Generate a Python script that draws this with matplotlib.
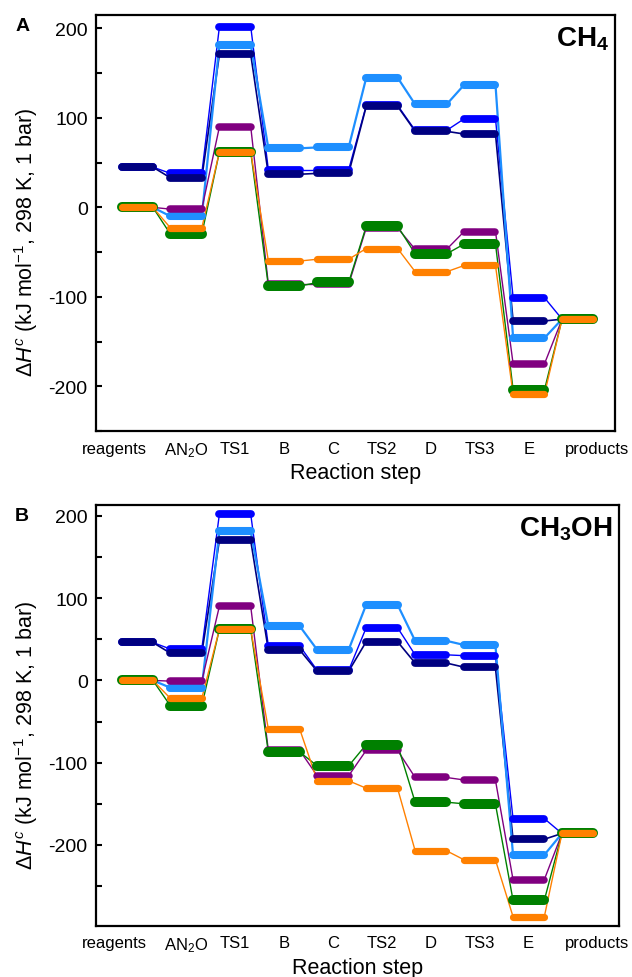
import numpy as np
import matplotlib
matplotlib.use("Agg")
import matplotlib.pyplot as plt

plt.rcParams['font.family'] = ['Liberation Sans', 'DejaVu Sans']
plt.rcParams['mathtext.fontset'] = 'custom'
plt.rcParams['mathtext.rm'] = 'Liberation Sans'
plt.rcParams['mathtext.it'] = 'Liberation Sans:italic'
plt.rcParams['mathtext.bf'] = 'Liberation Sans:bold'
plt.rcParams['axes.unicode_minus'] = False

steps = ['reagents', 'AN$_2$O', 'TS1', 'B', 'C', 'TS2', 'D', 'TS3', 'E', 'products']

# panel A : CH4
ch4_navy      = [45, 33, 171, 37, 38, 113, 85, 82, -127, -125]
ch4_blue      = [45, 38, 202, 42, 42, 114, 86, 99, -101, -125]
ch4_lightblue = [0, -10, 182, 66, 67, 145, 115, 137, -146, -125]
ch4_purple    = [0, -2, 90, -86, -86, -23, -47, -27, -175, -125]
ch4_green     = [0, -30, 62, -88, -84, -21, -52, -41, -204, -125]
ch4_orange    = [0, -23, 62, -60, -58, -46, -72, -65, -209, -125]

# panel B : CH3OH
meoh_navy      = [46, 33, 170, 37, 11, 47, 21, 16, -193, -186]
meoh_blue      = [46, 38, 202, 42, 12, 64, 31, 30, -168, -186]
meoh_lightblue = [0, -9, 181, 66, 37, 92, 48, 43, -212, -186]
meoh_purple    = [0, -1, 90, -85, -116, -85, -118, -121, -242, -186]
meoh_green     = [0, -31, 62, -87, -104, -78, -148, -150, -267, -186]
meoh_orange    = [0, -22, 62, -59, -122, -131, -207, -218, -287, -186]

colors = {'blue': '#0000ff', 'navy': '#000080', 'lightblue': '#1e8fff',
          'purple': '#800080', 'green': '#008000', 'orange': '#ff8000'}
barw = {'blue': 5.6, 'navy': 5.6, 'lightblue': 5.8, 'purple': 5.4, 'green': 7.2, 'orange': 5.2}
connw = {'blue': 1.0, 'navy': 1.2, 'lightblue': 1.6, 'purple': 1.0, 'green': 1.0, 'orange': 1.0}

half = 0.32


def draw_profile(ax, vals, name):
    c = colors[name]
    x = np.arange(len(vals))
    for i in range(len(vals) - 1):
        ax.plot([x[i] + half, x[i + 1] - half], [vals[i], vals[i + 1]], '-', color=c,
                lw=connw[name], zorder=1)
    for i in range(len(vals)):
        ax.plot([x[i] - half, x[i] + half], [vals[i], vals[i]], '-', color=c,
                lw=barw[name], solid_capstyle='round', zorder=2)


def setup(ax, ylim, xlim, title, letter):
    ax.set_xlim(*xlim)
    ax.set_ylim(*ylim)
    pos = list(np.arange(len(steps), dtype=float))
    pos[0] -= 0.47
    pos[-1] += 0.39
    ax.set_xticks(pos)
    ax.set_xticklabels(steps, fontsize=12)
    ax.tick_params(axis='x', length=0, pad=7)
    ax.set_yticks([-200, -100, 0, 100, 200])
    ax.set_yticks(np.arange(-250, 201, 50), minor=True)
    ax.tick_params(axis='y', which='both', direction='in', length=4, width=1.5,
                   labelsize=14, pad=6, right=False)
    for s in ax.spines.values():
        s.set_linewidth(1.6)
    ax.set_xlabel('Reaction step', fontsize=15.5, labelpad=2)
    ax.set_ylabel(r'$\Delta\mathit{H}^{\mathit{c}}$ (kJ mol$^{-1}$, 298 K, 1 bar)', fontsize=15.5)
    ax.yaxis.set_label_coords(-0.108, 0.455)
    ax.text(0.988, 0.978, title, transform=ax.transAxes, ha='right', va='top',
            fontsize=20, fontweight='bold')
    ax.text(-0.155, 0.995, letter, transform=ax.transAxes, ha='left', va='top',
            fontsize=14, fontweight='bold')


fig = plt.figure(figsize=(6.32, 9.78), dpi=100)
axA = fig.add_axes([0.152, 0.5583, 0.821, 0.4253])
axB = fig.add_axes([0.152, 0.0525, 0.827, 0.4301])

order = ['blue', 'navy', 'lightblue', 'purple', 'green', 'orange']
dataA = {'navy': ch4_navy, 'blue': ch4_blue, 'lightblue': ch4_lightblue,
         'purple': ch4_purple, 'green': ch4_green, 'orange': ch4_orange}
dataB = {'navy': meoh_navy, 'blue': meoh_blue, 'lightblue': meoh_lightblue,
         'purple': meoh_purple, 'green': meoh_green, 'orange': meoh_orange}

for k in order:
    draw_profile(axA, dataA[k], k)
    draw_profile(axB, dataB[k], k)

setup(axA, (-228, 215), (-0.84, 9.76), r'CH$_\mathbf{4}$', 'A')
setup(axB, (-298, 213), (-0.84, 9.84), r'CH$_\mathbf{3}$OH', 'B')

fig.savefig('out.png', dpi=100)
